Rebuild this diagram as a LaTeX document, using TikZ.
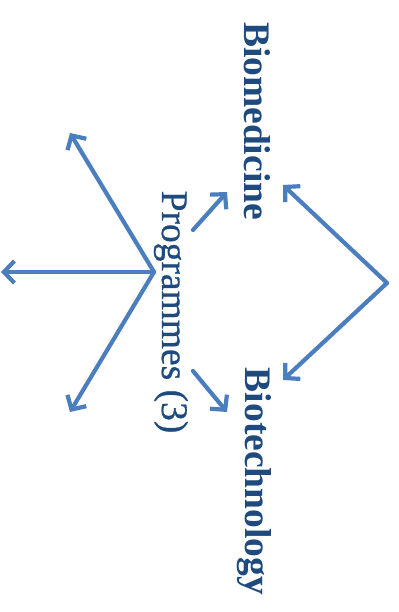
\documentclass[tikz,border=0pt]{standalone}
\usepackage{fontspec}
\setmainfont{Liberation Serif}
\newfontfamily\progfont{Liberation Serif}[FakeBold=0.7]
\usetikzlibrary{arrows.meta}
\definecolor{arrowblue}{HTML}{4A7EBF}
\definecolor{textblue}{HTML}{1F4A7E}
\tikzset{
  link/.style={draw=arrowblue, line width=4.2bp, line cap=round, line join=round,
    -{Straight Barb[length=10.5bp, width=22bp, line width=4.2bp]}},
  vlabel/.style={rotate=-90, anchor=base, text=textblue, inner sep=0pt},
  fieldfont/.style={font=\fontsize{37.5bp}{40bp}\selectfont\bfseries},
  progfontstyle/.style={font=\fontsize{37.5bp}{40bp}\progfont},
}
\begin{document}
\begin{tikzpicture}[x=1bp, y=1bp]
  \useasboundingbox (0,0) rectangle (398,612);
  % labels set vertically, read from top to bottom
  \node[vlabel, fieldfont] (bmed) at (244,491) {Biomedicine};
  \node[vlabel, fieldfont] (btech) at (245,130.5) {Biotechnology};
  \node[vlabel, progfontstyle] (prog) at (162,300) {Programmes (3)};
  % branching points and arrow ends
  \coordinate (join) at (387,329);
  \coordinate (bmedtip) at (283,427);
  \coordinate (btechtip) at (283,232);
  \coordinate (hub) at (154,340);
  \coordinate (hubup) at (70,479);
  \coordinate (hubleft) at (1,340);
  \coordinate (hubdown) at (70,200);
  \coordinate (progup) at (193,382);
  \coordinate (progupend) at (227,420);
  \coordinate (progdown) at (193,241);
  \coordinate (progdownend) at (227,200);
  % connectors
  \draw[link] (join) -- (bmedtip);
  \draw[link] (join) -- (btechtip);
  \draw[link] (hub) -- (hubup);
  \draw[link] (hub) -- (hubleft);
  \draw[link] (hub) -- (hubdown);
  \draw[link] (progup) -- (progupend);
  \draw[link] (progdown) -- (progdownend);
\end{tikzpicture}
\end{document}
